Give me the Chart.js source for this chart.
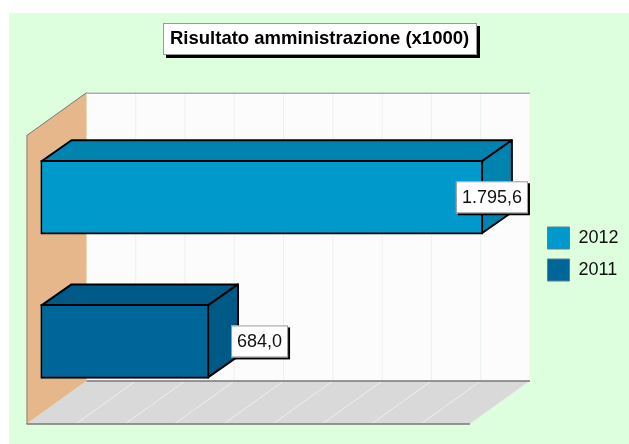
<!DOCTYPE html>
<html>
<head>
<meta charset="utf-8">
<title>Risultato amministrazione</title>
<script src="https://cdn.jsdelivr.net/npm/chart.js@4/dist/chart.umd.min.js"></script>
<style>
    html, body { margin: 0; padding: 0; background: #fff; }
    canvas { display: block; }
</style>
</head>
<body>
<canvas id="myChart" width="629" height="444"></canvas>
<script>
const titleText = "Risultato amministrazione (x1000)";
const categories = ["2012", "2011"];
const values = [1795.6, 684.0];
const axisMax = 1800;
const axisStep = 200;

const barColors = ["#0099cc", "#006699"];
const barDarkColors = ["#0084af", "#005a88"];
const font = "Liberation Sans";

// offsets from the bars' front plane (the chart area) to the back wall
const wallDx = 46, wallDy = -32.5;
const floorDx = 60, floorDy = -43;
const barDx = 30, barDy = -21;

function formatValue(v) {
    return v.toFixed(1).replace(".", ",").replace(/\B(?=(\d{3})+,)/g, ".");
}

function poly(ctx, pts, fill, stroke) {
    ctx.beginPath();
    pts.forEach((p, i) => i ? ctx.lineTo(p[0], p[1]) : ctx.moveTo(p[0], p[1]));
    ctx.closePath();
    if (fill) { ctx.fillStyle = fill; ctx.fill(); }
    if (stroke) { ctx.strokeStyle = stroke; ctx.stroke(); }
}

function line(ctx, x1, y1, x2, y2, color, width) {
    ctx.strokeStyle = color;
    ctx.lineWidth = width;
    ctx.beginPath();
    ctx.moveTo(x1, y1);
    ctx.lineTo(x2, y2);
    ctx.stroke();
}

function shadowBox(ctx, x, y, w, h, depth) {
    ctx.fillStyle = "#000";
    ctx.fillRect(x + depth, y + depth, w, h);
    ctx.fillStyle = "#fff";
    ctx.fillRect(x, y, w, h);
    ctx.strokeStyle = "#999";
    ctx.lineWidth = 1;
    ctx.strokeRect(x + 0.5, y + 0.5, w - 1, h - 1);
}

const scene = {
    id: "scene",
    afterLayout(chart) {
        // title and legend sit where the original has them
        chart.titleBlock.left = 170;
        chart.legend.left = 537.5;
        chart.legend.right = chart.width;
        chart.legend.top = 217;
    },
    beforeDraw(chart) {
        const ctx = chart.ctx;
        const a = chart.chartArea;
        const x = chart.scales.x;
        const backL = a.left + wallDx, backR = a.right + wallDx;
        const backT = a.top + wallDy, backB = a.bottom + wallDy;
        const frontL = backL - floorDx, frontB = backB - floorDy, frontT = backT - floorDy;

        ctx.save();
        ctx.fillStyle = "#fff";
        ctx.fillRect(0, 0, chart.width, chart.height);
        ctx.fillStyle = "#ddffdd";
        ctx.fillRect(9, 13, chart.width - 9, chart.height - 13);

        // walls and floor
        ctx.fillStyle = "#fcfcfc";
        ctx.fillRect(backL, backT, backR - backL, backB - backT);
        poly(ctx, [[frontL, frontT], [backL, backT], [backL, backB], [frontL, frontB]], "#e5b78a");
        poly(ctx, [[frontL, frontB], [backL, backB], [backR, backB], [backR - floorDx, frontB]], "#d9d9d9");

        x.ticks.forEach((t, i) => {
            const px = x.getPixelForTick(i) + wallDx;
            if (i > 0) {
                line(ctx, px, backT, px, backB, "#eaf2ea", 1);
                line(ctx, px, backB, px - floorDx, frontB, "#eeeeee", 1);
            }
        });

        line(ctx, backL, backT + 0.5, backR, backT + 0.5, "#888", 1);
        line(ctx, frontL, frontT, backL, backT, "#777", 1);
        line(ctx, frontL + 0.5, frontT, frontL + 0.5, frontB, "#888", 1);
        line(ctx, backL, backB, backR, backB, "#777", 1.5);
        line(ctx, frontL, frontB, backR - floorDx, frontB, "#777", 1.5);

        // title box, the title itself is the library's
        shadowBox(ctx, 163, 23, 314, 32, 3);
        ctx.restore();
    },
    beforeDatasetsDraw(chart) {
        const ctx = chart.ctx;
        ctx.save();
        ctx.lineWidth = 2;
        ctx.lineJoin = "round";
        chart.getDatasetMeta(0).data.forEach((bar, i) => {
            const t = bar.y - bar.height / 2 + 1, b = bar.y + bar.height / 2 - 1;
            const l = bar.base + 1, r = bar.x - 1;
            poly(ctx, [[l, t], [l + barDx, t + barDy], [r + barDx, t + barDy], [r, t]], barDarkColors[i], "#000");
            poly(ctx, [[r, t], [r + barDx, t + barDy], [r + barDx, b + barDy], [r, b]], barDarkColors[i], "#000");
        });
        ctx.restore();
    },
    afterDatasetsDraw(chart) {
        const ctx = chart.ctx;
        const limit = chart.chartArea.right + wallDx;
        ctx.save();
        ctx.font = "18px '" + font + "'";
        ctx.textBaseline = "middle";
        ctx.textAlign = "left";
        chart.getDatasetMeta(0).data.forEach((bar, i) => {
            const text = formatValue(values[i]);
            const w = ctx.measureText(text).width + 12;
            const h = 32;
            const left = Math.min(bar.x + 22, limit - 2 - w);
            const top = bar.y - h / 2;
            shadowBox(ctx, left, top, w, h, 2);
            ctx.fillStyle = "#111";
            ctx.fillText(text, left + 6, bar.y + 1);
        });
        ctx.restore();
    }
};

const ctx = document.getElementById("myChart").getContext("2d");
const myChart = new Chart(ctx, {
    type: "bar",
    data: {
        labels: categories,
        datasets: [{
            data: values,
            backgroundColor: barColors,
            borderColor: "#000",
            borderWidth: 2,
            borderSkipped: false,
            barThickness: 74
        }]
    },
    options: {
        indexAxis: "y",
        responsive: false,
        animation: false,
        layout: {
            padding: { left: 40.5, right: 54, top: 0, bottom: 30.5 }
        },
        plugins: {
            title: {
                display: true,
                text: titleText,
                align: "start",
                color: "#000",
                font: { family: font, size: 18.5, weight: "bold" },
                padding: { top: 28, bottom: 75 }
            },
            legend: {
                display: true,
                position: "right",
                align: "start",
                labels: {
                    boxWidth: 22,
                    boxHeight: 22,
                    padding: 10,
                    color: "#111",
                    font: { family: font, size: 18 },
                    generateLabels: () => categories.map((c, i) => ({
                        text: c,
                        fillStyle: barColors[i],
                        strokeStyle: "#5f7f8f",
                        fontColor: "#111",
                        lineWidth: 1,
                        index: i
                    }))
                }
            },
            tooltip: { enabled: false }
        },
        scales: {
            x: {
                display: false,
                min: 0,
                max: axisMax,
                ticks: { stepSize: axisStep }
            },
            y: {
                display: false
            }
        }
    },
    plugins: [scene]
});
</script>
</body>
</html>
